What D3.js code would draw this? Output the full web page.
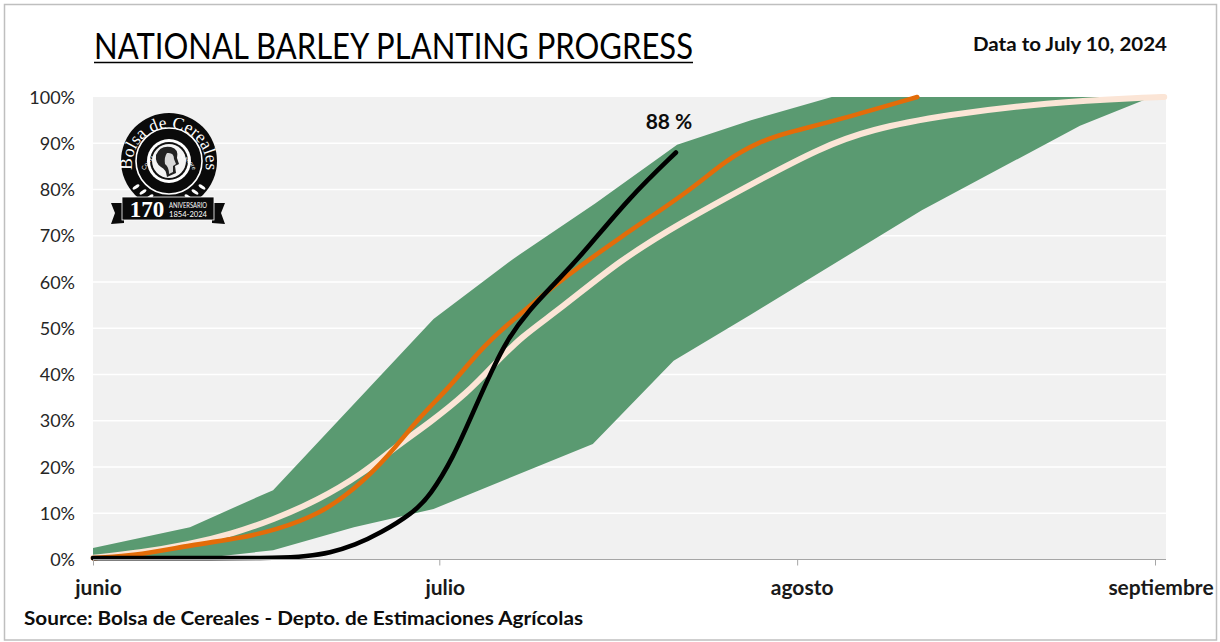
<!DOCTYPE html>
<html><head><meta charset="utf-8">
<script src="https://d3js.org/d3.v7.min.js"></script>
<style>html,body{margin:0;background:#fff}svg{display:block}text{font-family:Lato,"Open Sans",sans-serif}</style>
</head><body><div id="c"></div>
<script>
const tickLabels=["0%","10%","20%","30%","40%","50%","60%","70%","80%","90%","100%"];
const monthLabels=["junio","julio","agosto","septiembre"];
const monthDays=[0,30,61,92];
const upperDays=[0,8.4,15.6,29.5,36.4,43.5,50.6,57,64,91.7];
const upperVals=[2.5,7,15,52,65,77,89.7,95,100,100];
const lowerDays=[0,8.4,15.6,22.6,29.5,43.3,50.3,57,71.8,85.5,91.7];
const lowerVals=[0,0,2,7,10.9,25,43,53,75.5,93.8,100];
const avgDays=[0,4,8.4,12,15.6,19.4,23.4,26,29.2,32.4,34.7,37,40.5,45.7,50.9,57.2,63,67.3,74,82.6,91.3,92.8];
const avgVals=[0.4,1.4,3.3,5.5,8.6,12.7,18.6,24,29.6,36,42,48,54.2,64.8,72.8,81.4,89,93,96.2,98.8,99.9,100];
const curDays=[0,4.3,8.4,12.7,15.9,19.6,22.6,25.7,28.3,30.7,33.5,35.9,38.7,40.6,45.7,51.5,54.9,57.8,60.1,64.5,71.4];
const curVals=[0.3,1,3.1,4.6,6.4,9.8,15,22.6,30.9,36.7,45.3,50.8,56.6,60.5,69.8,79.3,86.5,90.4,92.3,95,100];
const histDays=[0,10,16.2,18.5,20.5,22.7,24.9,27.7,29.2,31.2,32.9,34.7,35.9,37.6,40.5,42.5,46.5,50.5];
const histVals=[0.3,0.3,0.3,0.7,1.4,3.1,5.7,10,13.8,22,31.7,41.7,47.5,53.5,61,66.3,78.4,88];
const W=1220,H=642,m={l:93,r:1166,t:97,b:559.5};
const svg=d3.select("#c").append("svg").attr("width",W).attr("height",H);
svg.append("rect").attr("x",4.5).attr("y",4.5).attr("width",1212).attr("height",635.5).attr("fill","#fff").attr("stroke","#bfbfbf").attr("stroke-width",1.5);
const x=d3.scaleLinear().domain([0,92]).range([93,1155]);
const y=d3.scaleLinear().domain([0,100]).range([m.b,m.t]);
const pts=(a,b)=>a.map((d,i)=>[d,b[i]]);
svg.append("rect").attr("x",m.l).attr("y",m.t).attr("width",m.r-m.l).attr("height",m.b-m.t).attr("fill","#f1f1f1");
const g=svg.append("g");
d3.range(10,100,10).forEach(v=>g.append("line").attr("x1",m.l).attr("x2",m.r).attr("y1",y(v)).attr("y2",y(v)).attr("stroke","#fff").attr("stroke-width",1.5));
const band=pts(upperDays,upperVals).concat(pts(lowerDays,lowerVals).reverse());
svg.append("path").attr("d",d3.line().x(d=>x(d[0])).y(d=>y(d[1]))(band)+"Z").attr("fill","#5a9a71");
const ln=d3.line().x(d=>x(d[0])).y(d=>y(d[1])).curve(d3.curveBasis);
const draw=(a,b,c,w)=>svg.append("path").attr("d",ln(pts(a,b))).attr("fill","none").attr("stroke",c).attr("stroke-width",w).attr("stroke-linecap","round");
draw(avgDays,avgVals,"#fbe5d6",6);
draw(curDays,curVals,"#e36c09",4.6);
draw(histDays,histVals,"#000",4.6);
const ax=d3.axisBottom(x).tickValues(monthDays).tickSize(6).tickFormat("");
const axG=svg.append("g").attr("transform",`translate(0,${m.b})`).call(ax);
axG.select(".domain").remove();
axG.append("line").attr("x1",m.l).attr("x2",m.r).attr("stroke","#a6a6a6").attr("stroke-width",1.2);
axG.selectAll(".tick line").attr("stroke","#a6a6a6");
monthDays.forEach((d,i)=>svg.append("text").attr("x",x(d)+[5.5,6,5,6][i]).attr("y",595).attr("text-anchor","middle").attr("font-size",21).attr("font-weight",700).attr("fill","#1a1a1a").text(monthLabels[i]));
tickLabels.forEach((t,i)=>svg.append("text").attr("x",75).attr("y",y(i*10)+6.5).attr("text-anchor","end").attr("font-size",18).attr("fill","#262626").text(t));
svg.append("text").attr("x",94).attr("y",59).attr("font-size",36).attr("textLength",599).attr("lengthAdjust","spacingAndGlyphs").attr("fill","#000").text("NATIONAL BARLEY PLANTING PROGRESS");
svg.append("line").attr("x1",94).attr("x2",693).attr("y1",62.5).attr("y2",62.5).attr("stroke","#000").attr("stroke-width",1.5);
svg.append("text").attr("x",973).attr("y",51).attr("font-size",19.5).attr("font-weight",700).attr("textLength",194).attr("lengthAdjust","spacingAndGlyphs").attr("fill","#0d0d0d").text("Data to July 10, 2024");
svg.append("text").attr("x",24).attr("y",625).attr("font-size",19.5).attr("font-weight",700).attr("textLength",559).attr("lengthAdjust","spacingAndGlyphs").attr("fill","#0d0d0d").text("Source: Bolsa de Cereales - Depto. de Estimaciones Agrícolas");
svg.append("text").attr("x",669).attr("y",129).attr("text-anchor","middle").attr("font-size",21).attr("font-weight",700).attr("fill","#0d0d0d").text("88 %");
const L=svg.append("g").attr("transform","translate(169,161)");
L.append("circle").attr("r",48).attr("fill","#0a0a0a");
L.append("circle").attr("r",33).attr("fill","none").attr("stroke","#fff").attr("stroke-width",1.6);
L.append("circle").attr("r",22).attr("fill","#fff");
L.append("circle").attr("r",19).attr("fill","#111");
L.append("circle").attr("r",17).attr("fill","#f4f4f4");
const defs=L.append("defs");
defs.append("path").attr("id","arcOut").attr("d","M-33,21 A37,37 0 1 1 33,21");
defs.append("path").attr("id","arcIn").attr("d","M-24,10 A25.5,25.5 0 0 1 24,10");
L.append("text").attr("font-size",17.5).attr("fill","#fff").style("font-family","Liberation Serif").append("textPath").attr("href","#arcOut").attr("startOffset","50%").attr("text-anchor","middle").text("Bolsa de Cereales");
L.append("text").attr("font-size",6).attr("fill","#fff").append("textPath").attr("href","#arcIn").attr("startOffset","50%").attr("text-anchor","middle").text("Constantia · et · Labore");
L.append("path").attr("d","M-13,-6 Q-9,-16 2,-14 Q10,-12 8,-3 L10,3 L6,5 L7,12 L-2,16 Q-3,8 -8,6 Q-14,2 -13,-6 Z").attr("fill","#222");
L.append("path").attr("d","M-2,-8 Q5,-9 5,-2 L7,3 L4,5 L4,11 L0,13 Q0,6 -4,3 Q-5,-4 -2,-8 Z").attr("fill","#d8d8d8");
L.selectAll(".leaf").data(d3.range(6)).join("ellipse").attr("cx",d=>(d%3+1)*7*(d<3?-1:1)-(d<3?12:-12)).attr("cy",d=>36-(d%3)*5).attr("rx",4).attr("ry",1.6).attr("fill","#fff").attr("transform",d=>`rotate(${d<3?-35:35} ${(d%3+1)*7*(d<3?-1:1)-(d<3?12:-12)} ${36-(d%3)*5})`);
const B=svg.append("g").attr("transform","translate(168,210)");
B.append("path").attr("d","M-57,-7 L-44,-7 L-44,13 L-57,14 L-53,3 Z").attr("fill","#0a0a0a");
B.append("path").attr("d","M57,-7 L44,-7 L44,13 L57,14 L53,3 Z").attr("fill","#0a0a0a");
B.append("rect").attr("x",-46).attr("y",-13).attr("width",92).attr("height",23).attr("fill","#0a0a0a").attr("stroke","#fff").attr("stroke-width",0.8);
B.append("text").attr("x",-21).attr("y",7).attr("text-anchor","middle").attr("font-size",23).attr("fill","#fff").attr("font-weight",700).style("font-family","Liberation Serif").text("170");
B.append("text").attr("x",1).attr("y",-2).attr("font-size",7).attr("textLength",38).attr("lengthAdjust","spacingAndGlyphs").attr("fill","#fff").text("ANIVERSARIO");
B.append("text").attr("x",1).attr("y",6.5).attr("font-size",7).attr("textLength",38).attr("lengthAdjust","spacingAndGlyphs").attr("fill","#fff").text("1854-2024");
</script></body></html>
